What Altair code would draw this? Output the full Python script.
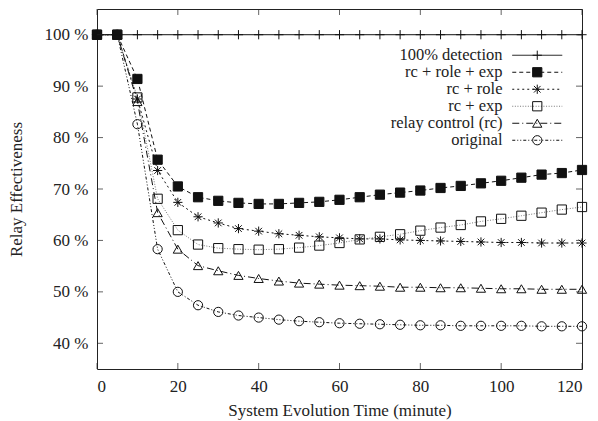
import altair as alt
import pandas as pd

# ---------------- data ----------------
times = [0, 5, 10, 15, 20, 25, 30, 35, 40, 45, 50, 55, 60,
         65, 70, 75, 80, 85, 90, 95, 100, 105, 110, 115, 120]

series_names = ["100% detection", "rc + role + exp", "rc + role",
                "rc + exp", "relay control (rc)", "original"]

detection = [100, 100, 100, 100, 100, 100, 100, 100, 100, 100, 100, 100, 100,
             100, 100, 100, 100, 100, 100, 100, 100, 100, 100, 100, 100]
rc_role_exp = [100, 100, 91.4, 75.7, 70.5, 68.4, 67.7, 67.3, 67.1, 67.1, 67.3, 67.5, 67.9,
               68.4, 68.9, 69.3, 69.7, 70.2, 70.6, 71.1, 71.6, 72.2, 72.8, 73.1, 73.7]
rc_role = [100, 100, 87.5, 73.6, 67.4, 64.6, 63.4, 62.3, 61.8, 61.3, 61.0, 60.7, 60.5,
           60.3, 60.3, 60.1, 60.0, 59.9, 59.8, 59.7, 59.6, 59.6, 59.5, 59.5, 59.5]
rc_exp = [100, 100, 87.8, 68.1, 62.0, 59.2, 58.5, 58.3, 58.2, 58.3, 58.6, 59.0, 59.5,
          60.2, 60.7, 61.2, 61.9, 62.5, 63.0, 63.7, 64.2, 64.8, 65.4, 66.0, 66.5]
relay_control = [100, 100, 87.0, 65.4, 58.3, 55.1, 54.1, 53.2, 52.6, 52.1, 51.7, 51.5, 51.3,
                 51.2, 51.1, 50.9, 50.9, 50.8, 50.8, 50.7, 50.6, 50.6, 50.5, 50.5, 50.5]
original = [100, 100, 82.6, 58.3, 50.0, 47.4, 46.1, 45.4, 45.0, 44.6, 44.3, 44.1, 43.9,
            43.8, 43.7, 43.6, 43.5, 43.5, 43.4, 43.4, 43.4, 43.4, 43.3, 43.3, 43.3]

x_ticks = [0, 20, 40, 60, 80, 100, 120]
y_ticks = [40, 50, 60, 70, 80, 90, 100]
x_range = [0, 120]
y_range = [35, 105]

all_values = [detection, rc_role_exp, rc_role, rc_exp, relay_control, original]
rows = []
for i, (name, vals) in enumerate(zip(series_names, all_values)):
    for t, v in zip(times, vals):
        rows.append({"t": t, "v": v, "series": name, "marker": name + " ", "order": i})
df = pd.DataFrame(rows)
marker_names = [n + " " for n in series_names]
xt_df = pd.DataFrame({"t": x_ticks})
yt_df = pd.DataFrame({"v": y_ticks})

# ---------------- style ----------------
FONT = "'Liberation Serif', 'Times New Roman', Times, serif"
FS = 17
LFS = 16.5
INK = "#222222"
W, H = 485, 360

plus_path = "M-1,0L1,0M0,-1L0,1"
star_path = "M-1,0L1,0M0,-1L0,1M-0.72,-0.72L0.72,0.72M-0.72,0.72L0.72,-0.72"
legend_line = "M-5,0L5,0"

dash_range = [[1, 0], [4, 3], [2, 3], [1, 1.6], [7, 3, 1, 3], [3, 2, 1, 2, 1, 2]]
color_range = ["#111111", "#111111", "#111111", "#777777", "#111111", "#111111"]
shape_range = [plus_path, "square", star_path, "square", "triangle-up", "circle"]
fill_range = ["transparent", "#111111", "transparent", "transparent", "transparent", "transparent"]
stroke_range = ["#111111", "#111111", "#111111", "#111111", "#111111", "#111111"]

xscale = alt.Scale(domain=x_range, nice=False, zero=False)
yscale = alt.Scale(domain=y_range, nice=False, zero=False)

xaxis = alt.Axis(
    orient="bottom", values=x_ticks, ticks=False, domain=False, grid=False,
    labelFont=FONT, labelFontSize=FS, labelColor=INK, labelPadding=9,
    title="System Evolution Time (minute)", titleFont=FONT, titleFontSize=FS,
    titleFontWeight="normal", titleColor=INK, titlePadding=8)
yaxis = alt.Axis(
    orient="left", values=y_ticks, labelExpr="datum.value + ' %'",
    ticks=False, domain=False, grid=False,
    labelFont=FONT, labelFontSize=FS, labelColor=INK, labelPadding=9,
    title="Relay Effectiveness", titleFont=FONT, titleFontSize=FS,
    titleFontWeight="normal", titleColor=INK, titlePadding=19)

LX, LY = 432, 38
LABEL_OFF = {"expr": "-43"}

legend_lines = alt.Legend(
    orient="none", legendX=LX, legendY=LY, title=None,
    symbolType=legend_line, symbolSize=100, symbolStrokeWidth=1,
    symbolFillColor="transparent",
    labelAlign="right", labelOffset=LABEL_OFF, labelFont=FONT, labelFontSize=LFS,
    labelColor=INK, labelLimit=400, rowPadding=0, padding=0,
)
legend_marks = alt.Legend(
    orient="none", legendX=LX, legendY=LY, title=None,
    symbolSize=85, symbolStrokeWidth=1, symbolStrokeColor="#111111",
    labelAlign="right", labelOffset=LABEL_OFF, labelFont=FONT, labelFontSize=LFS,
    labelExpr="''", labelLimit=400, rowPadding=0, padding=0,
)

lines = alt.Chart(df).mark_line(strokeWidth=1).encode(
    x=alt.X("t:Q", scale=xscale, axis=xaxis),
    y=alt.Y("v:Q", scale=yscale, axis=yaxis),
    color=alt.Color("series:N", scale=alt.Scale(domain=series_names, range=color_range),
                    legend=legend_lines),
    strokeDash=alt.StrokeDash("series:N", scale=alt.Scale(domain=series_names, range=dash_range),
                              legend=legend_lines),
    order=alt.Order("t:Q"),
)

points = alt.Chart(df).mark_point(size=85, strokeWidth=1, filled=True, opacity=1).encode(
    x=alt.X("t:Q", scale=xscale, axis=xaxis),
    y=alt.Y("v:Q", scale=yscale, axis=yaxis),
    shape=alt.Shape("marker:N", scale=alt.Scale(domain=marker_names, range=shape_range),
                    legend=legend_marks),
    fill=alt.Fill("marker:N", scale=alt.Scale(domain=marker_names, range=fill_range),
                  legend=legend_marks),
    stroke=alt.Stroke("marker:N", scale=alt.Scale(domain=marker_names, range=stroke_range),
                      legend=legend_marks),
)

# inward tick marks on all four sides (gnuplot style, mirrored)
TL = 6
xt_bottom = alt.Chart(xt_df).mark_tick(size=TL, thickness=1, color=INK, yOffset=-TL / 2).encode(
    x=alt.X("t:Q", scale=xscale, axis=xaxis),
    y=alt.YDatum(y_range[0], type="quantitative", scale=yscale, axis=yaxis))
xt_top = alt.Chart(xt_df).mark_tick(size=TL, thickness=1, color=INK, yOffset=TL / 2).encode(
    x=alt.X("t:Q", scale=xscale, axis=xaxis),
    y=alt.YDatum(y_range[1], type="quantitative", scale=yscale, axis=yaxis))
yt_left = alt.Chart(yt_df).mark_tick(size=TL, thickness=1, color=INK, xOffset=TL / 2, orient="horizontal").encode(
    y=alt.Y("v:Q", scale=yscale, axis=yaxis),
    x=alt.XDatum(x_range[0], type="quantitative", scale=xscale, axis=xaxis))
yt_right = alt.Chart(yt_df).mark_tick(size=TL, thickness=1, color=INK, xOffset=-TL / 2, orient="horizontal").encode(
    y=alt.Y("v:Q", scale=yscale, axis=yaxis),
    x=alt.XDatum(x_range[1], type="quantitative", scale=xscale, axis=xaxis))

chart = alt.layer(lines, points, xt_bottom, xt_top, yt_left, yt_right).properties(
    width=W, height=H,
    autosize=alt.AutoSizeParams(type="none"),
    padding={"left": 97, "top": 9, "right": 16, "bottom": 52},
    background="white",
).configure_view(stroke=INK, strokeWidth=1)

chart.save("out.html", embed_options={"renderer": "svg", "actions": False})
